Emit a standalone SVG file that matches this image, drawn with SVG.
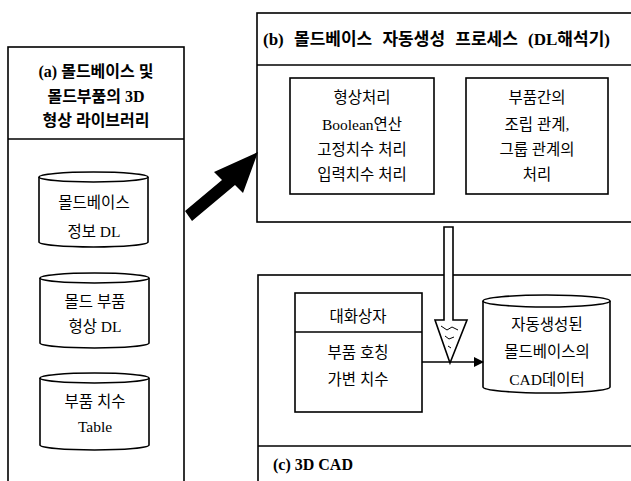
<svg xmlns="http://www.w3.org/2000/svg" width="631" height="481" viewBox="0 0 631 481">
<style>
.box{fill:none;stroke:#000;stroke-width:1.6}
.ln{stroke:#000;stroke-width:1.6;fill:none}
.cyl{fill:#fff;stroke:#000;stroke-width:1.6}
.t{font-family:"Liberation Serif","Noto Sans CJK KR",serif;font-size:15.5px;fill:#000;text-anchor:middle}
.b{font-weight:bold;font-size:16px}
.l{text-anchor:start}
</style>
<defs>
<marker id="ah" markerWidth="10" markerHeight="10" refX="9" refY="5" orient="auto" markerUnits="userSpaceOnUse">
<path d="M0,0 L10,5 L0,10 Z" fill="#000"/>
</marker>
</defs>
<rect width="631" height="481" fill="#fff"/>

<g id="panel-a">
<rect class="box" x="8" y="47" width="176" height="440"/>
<line class="ln" x1="8" y1="139" x2="184" y2="139"/>
<text class="t b" x="96" y="77">(a) 몰드베이스 및</text>
<text class="t b" x="96" y="102">몰드부품의 3D</text>
<text class="t b" x="96" y="126">형상 라이브러리</text>
</g>

<g id="cyl-a1">
<path class="cyl" d="M39,177 L39,242 A54.5,5 0 0 0 148,242 L148,177"/>
<ellipse class="cyl" cx="93.5" cy="177" rx="54.5" ry="5"/>
<text class="t" x="94" y="208">몰드베이스</text>
<text class="t" x="94" y="237">정보 DL</text>
</g>

<g id="cyl-a2">
<path class="cyl" d="M40,278 L40,343 A54.5,5 0 0 0 149,343 L149,278"/>
<ellipse class="cyl" cx="94.5" cy="278" rx="54.5" ry="5"/>
<text class="t" x="95" y="307">몰드 부품</text>
<text class="t" x="95" y="332">형상 DL</text>
</g>

<g id="cyl-a3">
<path class="cyl" d="M40,378 L40,445 A54.5,5 0 0 0 149,445 L149,378"/>
<ellipse class="cyl" cx="94.5" cy="378" rx="54.5" ry="5"/>
<text class="t" x="95" y="407">부품 치수</text>
<text class="t" x="95" y="432">Table</text>
</g>

<g id="panel-b">
<rect class="box" x="257" y="13" width="390" height="209"/>
<line class="ln" x1="257" y1="65" x2="640" y2="65"/>
<text class="t b l" x="263" y="45" style="font-size:17px;word-spacing:6px">(b) 몰드베이스 자동생성 프로세스 (DL해석기)</text>
</g>

<g id="box-b1">
<rect class="box" x="290" y="78" width="144" height="116"/>
<text class="t" x="362" y="103">형상처리</text>
<text class="t" x="362" y="130">Boolean연산</text>
<text class="t" x="362" y="155">고정치수 처리</text>
<text class="t" x="362" y="180">입력치수 처리</text>
</g>

<g id="box-b2">
<rect class="box" x="466" y="78" width="142" height="116"/>
<text class="t" x="537" y="103">부품간의</text>
<text class="t" x="537" y="130">조립 관계,</text>
<text class="t" x="537" y="155">그룹 관계의</text>
<text class="t" x="537" y="180">처리</text>
</g>

<g id="panel-c">
<rect class="box" x="258" y="275" width="390" height="215"/>
<line class="ln" x1="258" y1="446" x2="640" y2="446"/>
<text class="t b l" x="273" y="470">(c) 3D CAD</text>
</g>

<g id="dialog">
<rect class="box" x="295" y="293" width="127" height="119"/>
<line class="ln" x1="295" y1="332" x2="422" y2="332"/>
<text class="t" x="358" y="322">대화상자</text>
<text class="t" x="358" y="358">부품 호칭</text>
<text class="t" x="358" y="385">가변 치수</text>
</g>

<g id="cyl-c">
<path class="cyl" d="M483,301 L483,387 A63.5,6 0 0 0 610,387 L610,301"/>
<ellipse class="cyl" cx="546.5" cy="301" rx="63.5" ry="6"/>
<text class="t" x="547" y="330">자동생성된</text>
<text class="t" x="547" y="357">몰드베이스의</text>
<text class="t" x="547" y="385">CAD데이터</text>
</g>

<g id="connectors">
<polygon points="185,211 222,180 214,172 258,152 243,193 235,185 192,221" fill="#000"/>
<path d="M444,227 L453,227 L453,320 L467,320 L450,363 L435,320 L444,320 Z" fill="#fff" stroke="#000" stroke-width="1.6"/>
<path d="M441,326 l6,4 l5,-3 l6,3 M445,336 l4,3 l5,-2 M448,346 l3,2" fill="none" stroke="#000" stroke-width="1"/>
<line class="ln" x1="422" y1="362" x2="483" y2="362" marker-end="url(#ah)"/>
</g>
</svg>
